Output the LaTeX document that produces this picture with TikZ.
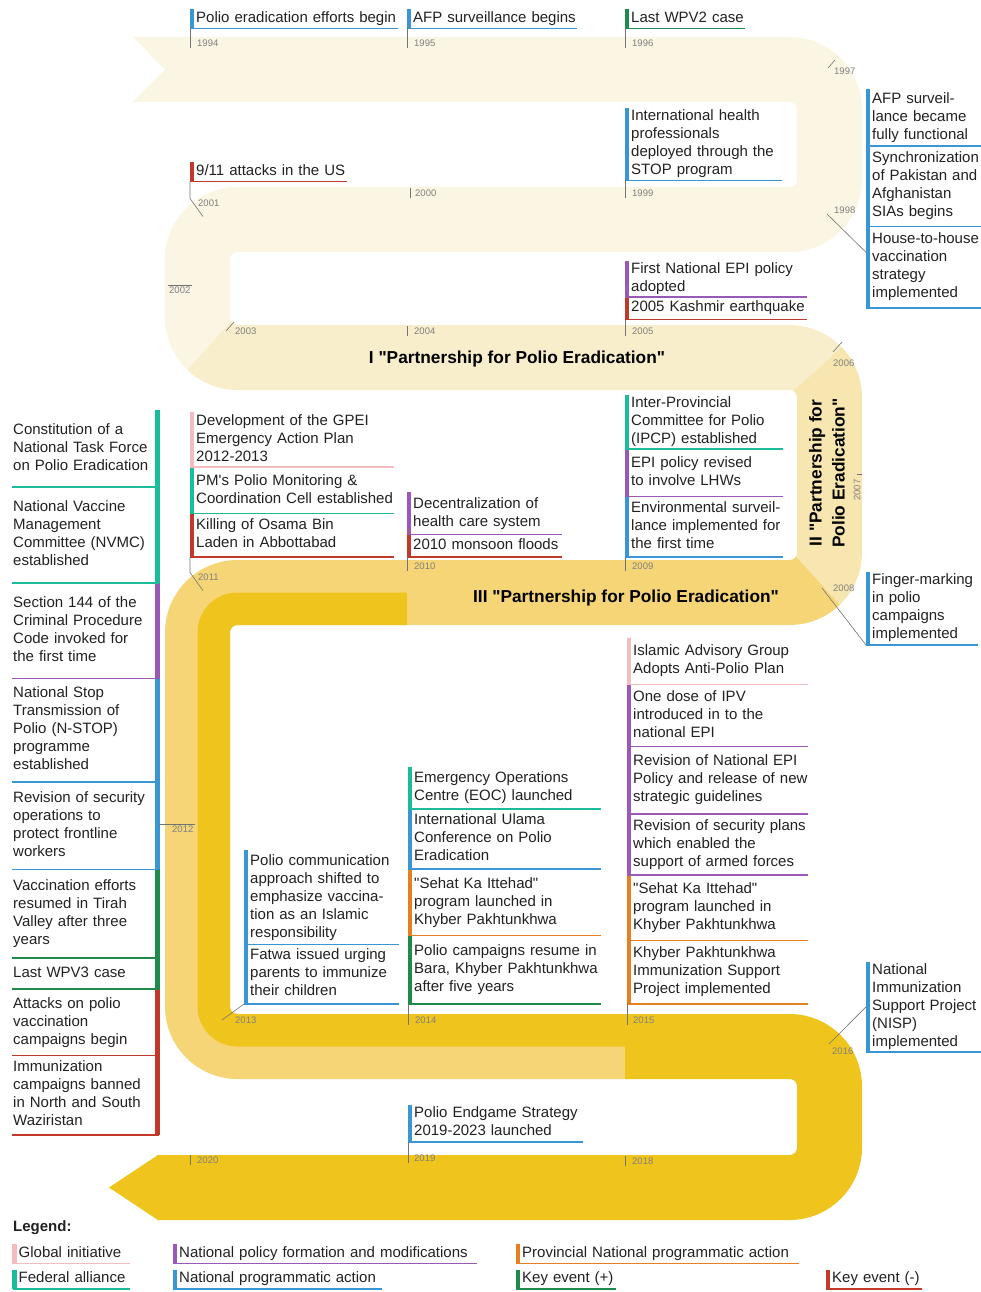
\documentclass[tikz,border=0pt]{standalone}
\usepackage{fontspec}
\setmainfont{Liberation Sans}
\usepackage{tikz}

\definecolor{bandPre}{HTML}{FBF5E3}
\definecolor{bandI}{HTML}{F9EECB}
\definecolor{bandII}{HTML}{F8E6B0}
\definecolor{bandIII}{HTML}{F6D577}
\definecolor{bandIV}{HTML}{EFC41D}
\definecolor{cPink}{HTML}{F4BCBF}
\definecolor{cTeal}{HTML}{1ABC9C}
\definecolor{cPurple}{HTML}{9B59B6}
\definecolor{cBlue}{HTML}{3A95D5}
\definecolor{cGreen}{HTML}{1E8B4C}
\definecolor{cRed}{HTML}{C0392B}
\definecolor{cOrange}{HTML}{E67E22}
\newcommand{\qd}{\textquotedbl}

\begin{document}
\begin{tikzpicture}[x=1pt, y=-1pt,
  every node/.style={font=\fontsize{15}{18}\selectfont, text=black!87},
  band/.style={line width=65pt, line cap=butt},
  ev/.style={anchor=south west, inner xsep=0pt, inner ysep=3pt, align=left,
    execute at begin node={\leftskip=6pt\strut}, execute at end node={\strut},
    append after command={([xshift=2pt]\tikzlastnode.north west) edge[#1, line width=4.5pt] ([xshift=2pt]\tikzlastnode.south west)
      (\tikzlastnode.south west) edge[#1, line width=1.5pt] (\tikzlastnode.south east)}},
  evl/.style={anchor=south west, inner xsep=0pt, inner ysep=3pt, align=left,
    execute at begin node={\leftskip=1pt\strut}, execute at end node={\strut},
    append after command={([xshift=-2pt]\tikzlastnode.north east) edge[#1, line width=4.5pt] ([xshift=-2pt]\tikzlastnode.south east)
      (\tikzlastnode.south west) edge[#1, line width=1.5pt] (\tikzlastnode.south east)}},
  yr/.style={font=\fontsize{9.5}{10}\selectfont, text=black!50, inner sep=1pt, anchor=west},
  tick/.style={draw=black!55, line width=0.6pt},
  phase/.style={font=\bfseries\fontsize{17.3}{23}\selectfont, text=black}]
\useasboundingbox (0,0) rectangle (980,1292);

% Band
\fill[bandPre] (133,37) -- (166,37) -- (166,102) -- (133,102) -- (165,69.5) -- cycle;
\draw[band, bandPre] (165,69.5) -- (789.5,69.5) arc[start angle=-90, end angle=0, radius=40]
  -- (829.5,179.5) arc[start angle=0, end angle=90, radius=40]
  -- (237.5,219.5) arc[start angle=270, end angle=180, radius=40]
  -- (197.5,317.5) arc[start angle=180, end angle=130, radius=40];
\draw[band, bandI] (237.5,317.5) ++(135:40) arc[start angle=135, end angle=90, radius=40]
  -- (789.5,357.5) arc[start angle=-90, end angle=-40, radius=40];
\draw[band, bandII] (789.5,397.5) ++(-45:40) arc[start angle=-45, end angle=0, radius=40]
  -- (829.5,552.5) arc[start angle=0, end angle=50, radius=40];
\draw[band, bandIII] (789.5,552.5) ++(45:40) arc[start angle=45, end angle=90, radius=40]
  -- (237.5,592.5) arc[start angle=270, end angle=180, radius=40]
  -- (197.5,1006.5) arc[start angle=180, end angle=90, radius=40] -- (628,1046.5);
\draw[line width=32.5pt, bandIV] (407,608.75) -- (237.5,608.75) arc[start angle=270, end angle=180, radius=23.75]
  -- (213.75,1006.5) arc[start angle=180, end angle=90, radius=23.75] -- (627,1030.25);
\draw[band, bandIV] (625,1046.5) -- (789.5,1046.5) arc[start angle=-90, end angle=0, radius=40]
  -- (829.5,1147.5) arc[start angle=0, end angle=90, radius=40] -- (157,1187.5);
\fill[bandIV] (158,1155) -- (109,1187.5) -- (158,1220) -- cycle;

% Phase titles
\node[phase] (tI) at (517,359) {I \qd Partnership for Polio Eradication\qd};
\node[phase, rotate=90, align=center] (tII) at (827,473) {II \qd Partnership for\\Polio Eradication\qd};
\node[phase] (tIII) at (626,598) {III \qd Partnership for Polio Eradication\qd};

% Years
\node[yr] (y94) at (196,43) {1994};
\node[yr] (y95) at (413,43) {1995};
\node[yr] (y96) at (631,43) {1996};
\node[yr] (y97) at (833,71) {1997};
\node[yr] (y98) at (833,210) {1998};
\node[yr] (y99) at (631,193) {1999};
\node[yr] (y00) at (414,193) {2000};
\node[yr] (y01) at (197,203) {2001};
\node[yr] (y02) at (168,290) {2002};
\node[yr] (y03) at (234,331) {2003};
\node[yr] (y04) at (413,331) {2004};
\node[yr] (y05) at (631,331) {2005};
\node[yr] (y06) at (832,363) {2006};
\node[yr, rotate=90, anchor=center] (y07) at (857,490) {2007};
\node[yr] (y08) at (832,588) {2008};
\node[yr] (y09) at (631,566) {2009};
\node[yr] (y10) at (413,566) {2010};
\node[yr] (y11) at (197,577) {2011};
\node[yr] (y12) at (171,829) {2012};
\node[yr] (y13) at (234,1020) {2013};
\node[yr] (y14) at (414,1020) {2014};
\node[yr] (y15) at (632,1020) {2015};
\node[yr] (y16) at (831,1051) {2016};
\node[yr] (y18) at (631,1161) {2018};
\node[yr] (y19) at (413,1158) {2019};
\node[yr] (y20) at (196,1160) {2020};

% Events 1994-1999
\node[ev=cBlue, text width=208pt, inner ysep=0.5pt] (e94) at (190,28.5) {Polio eradication efforts begin};
\node[ev=cBlue, text width=170pt, inner ysep=0.5pt] (e95) at (407,28.5) {AFP surveillance begins};
\node[ev=cGreen, text width=120pt, inner ysep=0.5pt] (e96) at (625,28.5) {Last WPV2 case};
\node[ev=cBlue, text width=116pt, inner ysep=4.5pt] (e98c) at (866,308) {House-to-house\\vaccination\\strategy\\implemented};
\node[ev=cBlue, text width=116pt, inner ysep=4pt] (e98b) at (e98c.north west) {Synchronization\\of Pakistan and\\Afghanistan\\SIAs begins};
\node[ev=cBlue, text width=116pt, inner ysep=1.5pt] (e98a) at (e98b.north west) {AFP surveil-\\lance became\\fully functional};
\node[ev=cBlue, text width=157pt, inner ysep=0pt] (e99) at (625,180.5) {International health\\professionals\\deployed through the\\STOP program};

% Events 2001-2008
\node[ev=cRed, text width=157pt, inner ysep=0.5pt] (e01) at (190,181.5) {9/11 attacks in the US};
\node[ev=cRed, text width=182pt, inner ysep=2pt] (e05b) at (625,319.5) {2005 Kashmir earthquake};
\node[ev=cPurple, text width=182pt, inner ysep=0pt] (e05a) at (e05b.north west) {First National EPI policy\\adopted};
\node[ev=cBlue, text width=112pt, inner ysep=0.5pt] (e08) at (866,645) {Finger-marking\\in polio\\campaigns\\implemented};

% Events 2009-2011
\node[ev=cBlue, text width=158pt, inner ysep=3pt] (e09c) at (625,557) {Environmental surveil-\\lance implemented for\\the first time};
\node[ev=cPurple, text width=158pt, inner ysep=5.5pt] (e09b) at (e09c.north west) {EPI policy revised\\to involve LHWs};
\node[ev=cTeal, text width=158pt, inner ysep=0pt] (e09a) at (e09b.north west) {Inter-Provincial\\Committee for Polio\\(IPCP) established};
\node[ev=cRed, text width=155pt, inner ysep=2pt] (e10b) at (407,557) {2010 monsoon floods};
\node[ev=cPurple, text width=155pt, inner ysep=3pt] (e10a) at (e10b.north west) {Decentralization of\\health care system};
\node[ev=cRed, text width=204pt, inner ysep=3.5pt] (e11c) at (190,557) {Killing of Osama Bin\\Laden in Abbottabad};
\node[ev=cTeal, text width=204pt, inner ysep=5pt] (e11b) at (e11c.north west) {PM\textquotesingle s Polio Monitoring \&\\Coordination Cell established};
\node[ev=cPink, text width=204pt, inner ysep=0.5pt] (e11a) at (e11b.north west) {Development of the GPEI\\Emergency Action Plan\\2012-2013};

% Events 2012 (left column)
\node[evl=cRed, text width=147pt, inner ysep=3.5pt] (e12i) at (12,1135) {Immunization\\campaigns banned\\in North and South\\Waziristan};
\node[evl=cRed, text width=147pt, inner ysep=6pt] (e12h) at (e12i.north west) {Attacks on polio\\vaccination\\campaigns begin};
\node[evl=cGreen, text width=147pt, inner ysep=6.5pt] (e12g) at (e12h.north west) {Last WPV3 case};
\node[evl=cGreen, text width=147pt, inner ysep=8pt] (e12f) at (e12g.north west) {Vaccination efforts\\resumed in Tirah\\Valley after three\\years};
\node[evl=cBlue, text width=147pt, inner ysep=7.5pt] (e12e) at (e12f.north west) {Revision of security\\operations to\\protect frontline\\workers};
\node[evl=cBlue, text width=147pt, inner ysep=6.5pt] (e12d) at (e12e.north west) {National Stop\\Transmission of\\Polio (N-STOP)\\programme\\established};
\node[evl=cPurple, text width=147pt, inner ysep=11.5pt] (e12c) at (e12d.north west) {Section 144 of the\\Criminal Procedure\\Code invoked for\\the first time};
\node[evl=cTeal, text width=147pt, inner ysep=12pt] (e12b) at (e12c.north west) {National Vaccine\\Management\\Committee (NVMC)\\established};
\node[evl=cTeal, text width=147pt, inner ysep=11pt] (e12a) at (e12b.north west) {Constitution of a\\National Task Force\\on Polio Eradication};

% Events 2013-2015
\node[ev=cBlue, text width=155pt, inner ysep=2.5pt] (e13b) at (244,1004) {Fatwa issued urging\\parents to immunize\\their children};
\node[ev=cBlue, text width=155pt, inner ysep=2pt] (e13a) at (e13b.north west) {Polio communication\\approach shifted to\\emphasize vaccina-\\tion as an Islamic\\responsibility};
\node[ev=cGreen, text width=193pt, inner ysep=7pt] (e14d) at (408,1004) {Polio campaigns resume in\\Bara, Khyber Pakhtunkhwa\\after five years};
\node[ev=cOrange, text width=193pt, inner ysep=6pt] (e14c) at (e14d.north west) {\qd Sehat Ka Ittehad\qd\\program launched in\\Khyber Pakhtunkhwa};
\node[ev=cBlue, text width=193pt, inner ysep=3pt] (e14b) at (e14c.north west) {International Ulama\\Conference on Polio\\Eradication};
\node[ev=cTeal, text width=193pt, inner ysep=2.5pt] (e14a) at (e14b.north west) {Emergency Operations\\Centre (EOC) launched};
\node[ev=cOrange, text width=181pt, inner ysep=4.5pt] (e15f) at (627,1004) {Khyber Pakhtunkhwa\\Immunization Support\\Project implemented};
\node[ev=cOrange, text width=181pt, inner ysep=5.5pt] (e15e) at (e15f.north west) {\qd Sehat Ka Ittehad\qd\\program launched in\\Khyber Pakhtunkhwa};
\node[ev=cPurple, text width=181pt, inner ysep=3.5pt] (e15d) at (e15e.north west) {Revision of security plans\\which enabled the\\support of armed forces};
\node[ev=cPurple, text width=181pt, inner ysep=6.5pt] (e15c) at (e15d.north west) {Revision of National EPI\\Policy and release of new\\strategic guidelines};
\node[ev=cPurple, text width=181pt, inner ysep=3.75pt] (e15b) at (e15c.north west) {One dose of IPV\\introduced in to the\\national EPI};
\node[ev=cPink, text width=181pt, inner ysep=5pt] (e15a) at (e15b.north west) {Islamic Advisory Group\\Adopts Anti-Polio Plan};

% Events 2016-2019
\node[ev=cBlue, text width=116pt, inner ysep=0pt] (e16) at (866,1052) {National\\Immunization\\Support Project\\(NISP)\\implemented};
\node[ev=cBlue, text width=175pt, inner ysep=0.5pt] (e19) at (408,1142) {Polio Endgame Strategy\\2019-2023 launched};

% Ticks
\draw[tick] (e94.south west) -- (e94.south west |- y94.south);
\draw[tick] (e95.south west) -- (e95.south west |- y95.south);
\draw[tick] (e96.south west) -- (e96.south west |- y96.south);
\draw[tick] ([shift={(-5,-3)}]y97.west) -- ([shift={(2,-11)}]y97.west);
\draw[tick] ([shift={(-6,4)}]y98.west) -- ([yshift=15pt]e98c.west);
\draw[tick] (e99.south west) -- (e99.south west |- y99.south);
\draw[tick] ([xshift=-4pt]y00.north west) -- ([xshift=-4pt]y00.south west);
\draw[tick] (e01.south west) -- (e01.south west |- y01.north) -- ([shift={(6,9)}]y01.south west);
\draw[tick] (y02.north west) -- (y02.north east);
\draw[tick] ([shift={(-8,0)}]y03.west) -- ([shift={(0,-9)}]y03.west);
\draw[tick] ([xshift=-6pt]y04.north west) -- ([xshift=-6pt]y04.south west);
\draw[tick] (e05b.south west) -- (e05b.south west |- y05.south);
\draw[tick] ([shift={(1,-11)}]y06.west) -- ([shift={(10,-21)}]y06.west);
\draw[tick] ([shift={(0,-4)}]y07.east) -- ([shift={(5,-4)}]y07.east);
\draw[tick] ([shift={(-10,0)}]y08.west) -- (e08.south west);
\draw[tick] (e09c.south west) -- (e09c.south west |- y09.south);
\draw[tick] (e10b.south west) -- (e10b.south west |- y10.south);
\draw[tick] (e11c.south west) -- (e11c.south west |- y11.north) -- ([shift={(6,9)}]y11.south west);
\draw[tick] (e12e.east |- y12.north) -- (y12.north east);
\draw[tick] (e13b.south west) -- ([xshift=-12pt]y13.west);
\draw[tick] (e14d.south west) -- (e14d.south west |- y14.south);
\draw[tick] (e15f.south west) -- (e15f.south west |- y15.south);
\draw[tick] ([shift={(-2,-7)}]y16.west) -- (e16.west);
\draw[tick] ([xshift=-6pt]y18.north west) -- ([xshift=-6pt]y18.south west);
\draw[tick] (e19.south west) -- (e19.south west |- y19.south);
\draw[tick] ([xshift=-6pt]y20.north west) -- ([xshift=-6pt]y20.south west);

% Legend
\node[anchor=west, inner sep=1pt, font=\bfseries\fontsize{15}{18}\selectfont] (lgd) at (12,1228) {Legend:};
\node[ev=cPink, text width=117pt, inner ysep=0.5pt] (lg1) at (12.5,1263.5) {Global initiative};
\node[ev=cPurple, text width=304pt, inner ysep=0.5pt] (lg2) at (173,1263.5) {National policy formation and modifications};
\node[ev=cOrange, text width=283pt, inner ysep=0.5pt] (lg3) at (516,1263.5) {Provincial National programmatic action};
\node[ev=cTeal, text width=117pt, inner ysep=0.5pt] (lg4) at (12.5,1289) {Federal alliance};
\node[ev=cBlue, text width=209pt, inner ysep=0.5pt] (lg5) at (173,1289) {National programmatic action};
\node[ev=cGreen, text width=100pt, inner ysep=0.5pt] (lg6) at (516,1289) {Key event (+)};
\node[ev=cRed, text width=96pt, inner ysep=0.5pt] (lg7) at (826,1289) {Key event (-)};

\end{tikzpicture}
\end{document}
